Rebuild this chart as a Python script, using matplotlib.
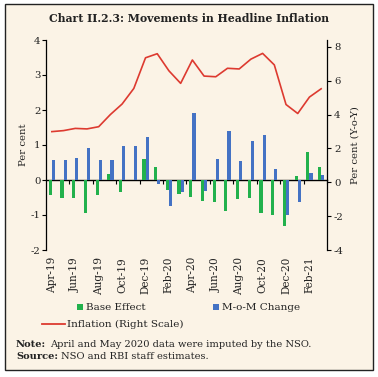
import matplotlib
matplotlib.use("Agg")
import matplotlib.pyplot as plt
from matplotlib.patches import Rectangle
from matplotlib.lines import Line2D
import numpy as np

months = ["Apr-19", "May-19", "Jun-19", "Jul-19", "Aug-19", "Sep-19", "Oct-19", "Nov-19",
          "Dec-19", "Jan-20", "Feb-20", "Mar-20", "Apr-20", "May-20", "Jun-20", "Jul-20",
          "Aug-20", "Sep-20", "Oct-20", "Nov-20", "Dec-20", "Jan-21", "Feb-21", "Mar-21"]
base_effect = [-0.43, -0.50, -0.50, -0.95, -0.43, 0.17, -0.33, -0.01,
               0.61, 0.38, -0.29, -0.40, -0.49, -0.61, -0.63, -0.88,
               -0.54, -0.51, -0.93, -0.99, -1.32, 0.12, 0.79, 0.37]
mom_change = [0.57, 0.57, 0.64, 0.91, 0.56, 0.56, 0.96, 0.96,
              1.22, -0.12, -0.73, -0.33, 1.91, -0.31, 0.61, 1.41,
              0.53, 1.12, 1.30, 0.32, -1.00, -0.63, 0.20, 0.13]
inflation = [2.99, 3.05, 3.18, 3.15, 3.28, 4.00, 4.62, 5.54,
             7.35, 7.59, 6.58, 5.84, 7.22, 6.27, 6.23, 6.73,
             6.69, 7.27, 7.61, 6.93, 4.59, 4.06, 5.03, 5.52]

W, H = 378, 377
plt.rcParams["font.family"] = ["DejaVu Serif"]
fig = plt.figure(figsize=(W / 100, H / 100), dpi=100, facecolor="white")

bg = "#FBF3E6"
ink = "#222222"
fig.patches.append(Rectangle((5 / W, 1 - 370 / H), 368 / W, 366 / H, transform=fig.transFigure,
                             facecolor=bg, edgecolor=ink, linewidth=1.0, zorder=-10))

green = "#22B14C"
blue = "#4472C4"
red = "#DD3A30"

ax = fig.add_axes([46 / W, 1 - 250 / H, 281 / W, 210 / H])
ax.patch.set_alpha(0)
x = np.arange(len(months))
bw = 0.27
ax.bar(x - bw / 2, base_effect, width=bw, color=green, zorder=3)
ax.bar(x + bw / 2, mom_change, width=bw, color=blue, zorder=3)
ax.set_xlim(-0.5, len(months) - 0.5)
ax.set_ylim(-2, 4)
ax.set_yticks(range(-2, 5))
ax.set_yticklabels([str(v) for v in range(-2, 5)], fontsize=7.3, color=ink)
ax.tick_params(axis="y", direction="out", length=3, width=0.8, pad=1)
ax.spines["top"].set_visible(False)
ax.spines["right"].set_visible(False)
ax.spines["bottom"].set_visible(False)
ax.spines["left"].set_linewidth(0.9)
ax.set_ylabel("Per cent", fontsize=7.3, labelpad=2, color=ink)

ax.set_xticks(x[::2])
ax.set_xticklabels(months[::2], rotation=90, fontsize=7.6, color=ink)
ax.tick_params(axis="x", length=0, pad=5)

zero_frac = (0 - (-2)) / 6
sec = ax.secondary_xaxis(zero_frac)
sec.set_xticks(np.arange(-0.5, len(months), 2)[1:])
sec.set_xticklabels([])
sec.tick_params(axis="x", direction="out", length=3, width=0.8)
sec.spines["bottom"].set_linewidth(1.0)
sec.spines["top"].set_linewidth(1.0)

ax2 = ax.twinx()
ax2.plot(x, inflation, color=red, linewidth=1.2, zorder=4)
ax2.set_ylim(-4, 8.4)
ax2.set_yticks(range(-4, 9, 2))
ax2.set_yticklabels([str(v) for v in range(-4, 9, 2)], fontsize=7.3, color=ink)
ax2.tick_params(axis="y", direction="out", length=3, width=0.8, pad=2)
ax2.spines["top"].set_visible(False)
ax2.spines["left"].set_visible(False)
ax2.spines["bottom"].set_visible(False)
ax2.spines["right"].set_linewidth(0.9)
ax2.set_ylabel("Per cent (Y-o-Y)", fontsize=7.3, labelpad=5, color=ink)

fig.text(189 / W, 1 - 19 / H, "Chart II.2.3: Movements in Headline Inflation",
         ha="center", va="center", fontsize=7.8, fontweight="bold", color=ink)

# legend
ly1 = 1 - 307 / H
ly2 = 1 - 324 / H
fig.patches.append(Rectangle((77 / W, ly1 - 3 / H), 6 / W, 6 / H, transform=fig.transFigure,
                             facecolor=green, edgecolor="none"))
fig.text(86 / W, ly1, "Base Effect", fontsize=7.5, va="center", ha="left", color=ink)
fig.patches.append(Rectangle((213 / W, ly1 - 3 / H), 6 / W, 6 / H, transform=fig.transFigure,
                             facecolor=blue, edgecolor="none"))
fig.text(222 / W, ly1, "M-o-M Change", fontsize=7.5, va="center", ha="left", color=ink)
fig.lines.append(Line2D([42 / W, 65 / W], [ly2, ly2], transform=fig.transFigure,
                        color=red, linewidth=1.3))
fig.text(67 / W, ly2, "Inflation (Right Scale)", fontsize=7.5, va="center", ha="left", color=ink)

# notes
for ypix, bold, rest in [(347, "Note:", "April and May 2020 data were imputed by the NSO."),
                         (359, "Source:", "NSO and RBI staff estimates.")]:
    t = fig.text(16 / W, 1 - ypix / H, bold, fontsize=7.1, va="baseline", ha="left",
                 fontweight="bold", color=ink)
    ax.annotate(rest, xy=(1, 0), xycoords=t, xytext=(2.5, 0), textcoords="offset points",
                fontsize=7.1, va="bottom", ha="left", color=ink, annotation_clip=False)

fig.savefig("out.png", dpi=100, facecolor="white")
